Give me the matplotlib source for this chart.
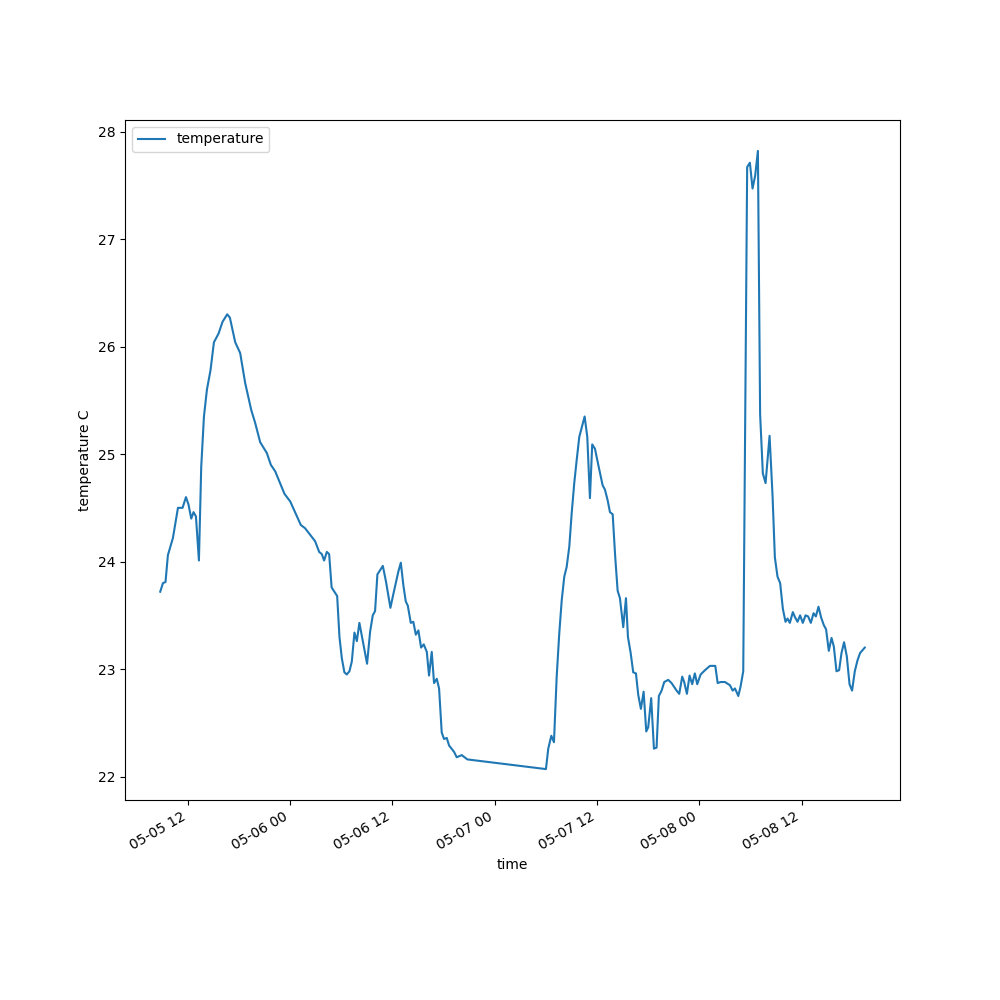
import matplotlib
matplotlib.use("Agg")
import matplotlib.pyplot as plt
import matplotlib.dates as mdates
import pandas as pd

# hours since 2024-05-05 00:00
hours = [8.75, 9.07, 9.37, 9.65, 10.24, 10.83, 11.37, 11.77, 12.07, 12.39,
         12.66, 12.94, 13.29, 13.56, 13.88, 14.23, 14.65, 15.05, 15.59, 16.06,
         16.61, 16.92, 17.55, 18.13, 18.72, 19.43, 19.89, 20.48, 21.26, 21.73,
         22.24, 23.33, 24.0, 25.25, 25.75, 26.34, 26.92, 27.40, 27.71, 27.98,
         28.30, 28.57, 28.86, 29.51, 29.78, 30.06, 30.36, 30.64, 30.95, 31.23,
         31.54, 31.82, 32.12, 33.02, 33.38, 33.69, 33.96, 34.23, 34.87, 35.25,
         35.76, 36.11, 36.70, 36.98, 37.28, 37.56, 37.80, 38.15, 38.45, 38.74,
         39.04, 39.36, 39.67, 40.03, 40.29, 40.61, 40.88, 41.20, 41.47, 41.78,
         42.05, 42.37, 42.64, 43.23, 43.54, 44.13, 44.79, 54.01, 54.28, 54.64,
         54.95, 55.27, 55.57, 55.86, 56.16, 56.44, 56.75, 57.03, 57.33, 57.61,
         57.92, 58.55, 58.86, 59.17, 59.44, 59.76, 60.15, 60.66, 60.93, 61.25,
         61.52, 61.84, 62.14, 62.42, 62.69, 63.08, 63.40, 63.63, 63.95, 64.25,
         64.57, 64.84, 65.15, 65.47, 65.78, 66.01, 66.36, 66.68, 66.99, 67.26,
         67.58, 67.89, 68.36, 68.75, 69.34, 69.65, 70.00, 70.23, 70.55, 70.86,
         71.17, 71.48, 71.76, 72.16, 72.67, 73.25, 73.88, 74.16, 74.51, 75.01,
         75.60, 75.92, 76.19, 76.58, 76.85, 77.16, 77.62, 77.94, 78.25, 78.56,
         78.88, 79.14, 79.46, 79.78, 80.25, 80.60, 80.87, 81.18, 81.49, 81.81,
         82.12, 82.36, 82.63, 82.98, 83.25, 83.53, 83.83, 84.15, 84.47, 84.77,
         85.09, 85.41, 85.68, 85.99, 86.30, 86.61, 86.88, 87.20, 87.52, 87.79,
         88.10, 88.41, 88.69, 88.99, 89.31, 89.63, 89.93, 90.25, 90.56, 90.87,
         91.42]

temperature = [23.72, 23.80, 23.81, 24.06, 24.22, 24.50, 24.50, 24.60, 24.53, 24.40,
               24.46, 24.42, 24.01, 24.88, 25.35, 25.60, 25.78, 26.04, 26.12, 26.23,
               26.30, 26.27, 26.04, 25.94, 25.66, 25.41, 25.29, 25.11, 25.01, 24.90,
               24.84, 24.63, 24.56, 24.34, 24.31, 24.25, 24.19, 24.09, 24.07, 24.01,
               24.09, 24.07, 23.76, 23.68, 23.30, 23.10, 22.97, 22.95, 22.98, 23.07,
               23.34, 23.26, 23.43, 23.05, 23.35, 23.50, 23.54, 23.88, 23.96, 23.81,
               23.57, 23.70, 23.91, 23.99, 23.78, 23.63, 23.59, 23.43, 23.44, 23.32,
               23.36, 23.20, 23.23, 23.16, 22.94, 23.16, 22.87, 22.91, 22.82, 22.41,
               22.35, 22.36, 22.29, 22.23, 22.18, 22.20, 22.16, 22.07, 22.26, 22.38,
               22.32, 22.93, 23.33, 23.64, 23.86, 23.95, 24.14, 24.45, 24.73, 24.94,
               25.16, 25.35, 25.16, 24.59, 25.09, 25.05, 24.90, 24.71, 24.67, 24.57,
               24.46, 24.44, 24.04, 23.73, 23.66, 23.39, 23.66, 23.30, 23.15, 22.97,
               22.96, 22.76, 22.63, 22.79, 22.42, 22.46, 22.73, 22.26, 22.27, 22.75,
               22.80, 22.88, 22.90, 22.87, 22.80, 22.77, 22.93, 22.88, 22.77, 22.94,
               22.86, 22.96, 22.86, 22.95, 22.99, 23.03, 23.03, 22.87, 22.88, 22.88,
               22.85, 22.80, 22.82, 22.75, 22.84, 22.98, 27.67, 27.71, 27.47, 27.59,
               27.82, 25.37, 24.82, 24.73, 25.17, 24.61, 24.04, 23.86, 23.80, 23.56,
               23.44, 23.47, 23.43, 23.53, 23.48, 23.44, 23.50, 23.43, 23.50, 23.49,
               23.43, 23.52, 23.49, 23.58, 23.48, 23.41, 23.37, 23.17, 23.29, 23.21,
               22.98, 22.99, 23.15, 23.25, 23.12, 22.86, 22.80, 22.98, 23.08, 23.15,
               23.20]

start = pd.Timestamp("2024-05-05 00:00")
times = [(start + pd.Timedelta(hours=h)).to_pydatetime() for h in hours]

fig, ax = plt.subplots(figsize=(10, 10), dpi=100)
ax.plot(times, temperature, color="#1f77b4", label="temperature")
ax.xaxis.set_major_locator(mdates.HourLocator(byhour=[0, 12]))
ax.xaxis.set_major_formatter(mdates.DateFormatter("%m-%d %H"))
ax.set_xlabel("time")
ax.set_ylabel("temperature C")
ax.legend(loc="upper left")
fig.autofmt_xdate()
fig.savefig("out.png", dpi=100)
